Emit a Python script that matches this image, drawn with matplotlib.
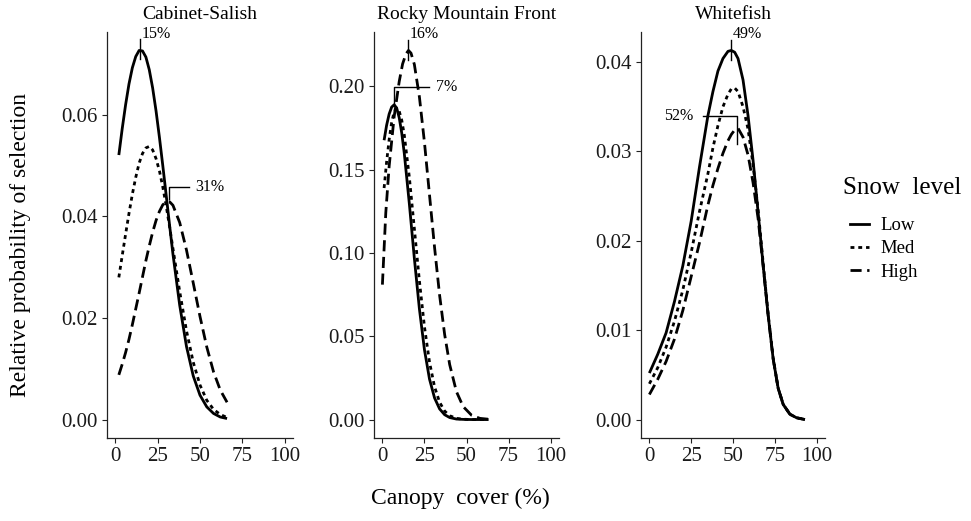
import matplotlib
matplotlib.use("Agg")
import matplotlib.pyplot as plt
from matplotlib.lines import Line2D
from matplotlib.ticker import FormatStrFormatter

plt.rcParams['font.family'] = ['Liberation Serif', 'DejaVu Serif']

# panel names and legend
panels = ["Cabinet-Salish", "Rocky Mountain Front", "Whitefish"]
levels = ["Low", "Med", "High"]

# Cabinet-Salish
cs_x = [2, 4, 6, 8, 10, 12, 14, 16, 18, 20, 22, 24, 26, 28, 30, 32, 34,
        38, 42, 46, 50, 54, 58, 62, 66]
cs_low = [0.0521, 0.0573, 0.0620, 0.0661, 0.0693, 0.0715, 0.0727, 0.0726, 0.0714,
          0.0689, 0.0653, 0.0608, 0.0556, 0.0500, 0.0442, 0.0383, 0.0326,
          0.0225, 0.0144, 0.0086, 0.0048, 0.0025, 0.0012, 0.0005, 0.0002]
cs_med = [0.0280, 0.0323, 0.0365, 0.0406, 0.0444, 0.0477, 0.0505, 0.0524, 0.0535,
          0.0538, 0.0531, 0.0514, 0.0490, 0.0458, 0.0421, 0.0380, 0.0337,
          0.0252, 0.0175, 0.0113, 0.0068, 0.0038, 0.0020, 0.0010, 0.0004]
cs_high = [0.0088, 0.0109, 0.0132, 0.0158, 0.0187, 0.0218, 0.0249, 0.0281, 0.0313,
           0.0342, 0.0369, 0.0392, 0.0410, 0.0423, 0.0429, 0.0429, 0.0422,
           0.0388, 0.0334, 0.0269, 0.0203, 0.0143, 0.0094, 0.0058, 0.0034]

# Rocky Mountain Front
rmf_x = [1, 2.5, 4, 5.5, 7, 8.5, 10, 11.5, 13, 16, 19, 22, 25, 28, 31, 34, 37, 40,
         44, 48, 53, 58, 63]
rmf_low = [0.1677, 0.1767, 0.1834, 0.1876, 0.1890, 0.1870, 0.1812, 0.1720, 0.1599,
           0.1297, 0.0967, 0.0664, 0.0419, 0.0243, 0.0130, 0.0064, 0.0029, 0.0012,
           0.0003, 0.0001, 0.0, 0.0, 0.0]
rmf_med = [0.139, 0.1547, 0.168, 0.1784, 0.1848, 0.187, 0.1851, 0.1797, 0.1709,
           0.1456, 0.1146, 0.0832, 0.0557, 0.0345, 0.0197, 0.0104, 0.0051, 0.0023,
           0.0007, 0.0002, 0.0, 0.0, 0.0]
rmf_high_x = [0, 2, 4, 7, 10, 12, 14, 15.5, 17, 19, 22, 25, 28, 31, 34, 37, 40, 44,
              48, 53, 58, 63]
rmf_high = [0.081, 0.124, 0.152, 0.182, 0.203, 0.2135, 0.2195, 0.2216, 0.2200, 0.2132,
            0.1937, 0.1664, 0.1349, 0.1034, 0.0747, 0.0511, 0.0330, 0.0168, 0.0078,
            0.0026, 0.0007, 0.0002]

# Whitefish
wf_x = [0, 5, 10, 15, 20, 25, 30, 35, 38, 41, 44, 47, 49, 51, 53, 56, 59, 62, 65,
        68, 71, 74, 77, 80, 84, 88, 93]
wf_low = [0.0052, 0.0073, 0.0097, 0.0132, 0.0172, 0.0222, 0.0283, 0.0340, 0.0367,
          0.0390, 0.0404, 0.0412, 0.0413, 0.0411, 0.0404, 0.0380, 0.0340, 0.0290,
          0.0232, 0.0173, 0.0117, 0.0068, 0.0035, 0.0017, 0.0006, 0.0002, 0.0]
wf_med = [0.0040, 0.0058, 0.0081, 0.0110, 0.0145, 0.0187, 0.0233, 0.0275, 0.0304,
          0.0329, 0.0350, 0.0364, 0.0370, 0.0371, 0.0367, 0.0350, 0.0325, 0.0285,
          0.0235, 0.0176, 0.0118, 0.0069, 0.0035, 0.0017, 0.0006, 0.0002, 0.0]
wf_high = [0.0028, 0.0045, 0.0065, 0.0090, 0.0122, 0.0160, 0.0198, 0.0240, 0.0262,
           0.0281, 0.0298, 0.0312, 0.0319, 0.0324, 0.0326, 0.0316, 0.0296, 0.0265,
           0.0225, 0.0172, 0.0117, 0.0068, 0.0035, 0.0017, 0.0006, 0.0002, 0.0]

# peak labels: (panel, label, x of peak, y of peak, style)
peaks = [
    (0, "15%", 14.6, 0.0728, "tick"),
    (0, "31%", 31.5, 0.0434, "right"),
    (1, "16%", 15.4, 0.2216, "tick"),
    (1, "7%", 6.9, 0.1880, "right"),
    (2, "49%", 48.8, 0.0413, "tick"),
    (2, "52%", 52.6, 0.0326, "left"),
]

x_ticks = [0, 25, 50, 75, 100]
y_ticks = [[0.00, 0.02, 0.04, 0.06],
           [0.00, 0.05, 0.10, 0.15, 0.20],
           [0.00, 0.01, 0.02, 0.03, 0.04]]

data = [
    [(cs_x, cs_low), (cs_x, cs_med), (cs_x, cs_high)],
    [(rmf_x, rmf_low), (rmf_x, rmf_med), (rmf_high_x, rmf_high)],
    [(wf_x, wf_low), (wf_x, wf_med), (wf_x, wf_high)],
]

styles = ['-', (0, (1.4, 1.4)), (0, (4, 2))]
lw = 2.0
axcol = '#222222'

fig = plt.figure(figsize=(9.71, 5.21), dpi=100)
lefts = [107, 374, 641]
widths = [186, 185, 184]

axes = []
for i, name in enumerate(panels):
    ax = fig.add_axes([lefts[i] / 971, 1 - 438 / 521, widths[i] / 971, 406 / 521])
    ymax = 0
    for (xs, ys), ls in zip(data[i], styles):
        ax.plot(xs, ys, color='black', lw=lw, linestyle=ls, solid_capstyle='butt',
                solid_joinstyle='round')
        ymax = max(ymax, max(ys))
    ax.set_xlim(-5, 105)
    ax.set_ylim(-0.05 * ymax, 1.05 * ymax)
    ax.set_xticks(x_ticks)
    ax.set_yticks(y_ticks[i])
    ax.yaxis.set_major_formatter(FormatStrFormatter('%.2f'))
    for s in ['top', 'right']:
        ax.spines[s].set_visible(False)
    for s in ['left', 'bottom']:
        ax.spines[s].set_color(axcol)
        ax.spines[s].set_linewidth(0.9)
    ax.tick_params(labelsize=15, length=3.5, width=0.8, color=axcol, labelcolor='#1a1a1a', pad=3)
    ax.set_title(name, fontsize=14, pad=9.5)
    axes.append(ax)

# peak annotations
kw = dict(color='black', lw=1.0, clip_on=False)
for i, lab, px, py, kind in peaks:
    ax = axes[i]
    h = ax.get_ylim()[1] - ax.get_ylim()[0]
    if kind == "tick":
        top = py + 0.026 * h
        ax.plot([px, px], [py - 0.023 * h, top], **kw)
        ax.text(px + 0.9, top + 0.004 * h, lab, fontsize=11.5, ha='left', va='baseline')
    elif kind == "right":
        top = py + (0.048 if i == 1 else 0.031) * h
        arm = 20.7 if i == 1 else 11.9
        ax.plot([px, px, px + arm], [py, top, top], **kw)
        ax.text(px + arm + 4, top, lab, fontsize=11.5, ha='left', va='center')
    else:
        top = py + 0.029 * h
        ax.plot([px - 20.3, px, px], [top, top, py - 0.04 * h], **kw)
        ax.text(px - 26.3, top, lab, fontsize=11.5, ha='right', va='center')

fig.text(0.021, 0.53, "Relative probability of selection", rotation=90,
         fontsize=17, ha='center', va='center')
fig.text(0.474, 0.044, "Canopy  cover (%)", fontsize=17, ha='center', va='center')

# legend: title drawn separately to get the wider gap
fig.text(843 / 971, 1 - 188 / 521, "Snow  level", fontsize=18, ha='left', va='center')
handles = [Line2D([], [], color='black', lw=lw, linestyle=ls) for ls in styles]
leg = fig.legend(handles, levels, loc='upper left',
                 bbox_to_anchor=(850 / 971, 1 - 217 / 521), frameon=False,
                 fontsize=13.5, handlelength=1.0, handletextpad=0.6,
                 labelspacing=0.33, borderpad=0, borderaxespad=0)

fig.savefig("out.png", dpi=100)
